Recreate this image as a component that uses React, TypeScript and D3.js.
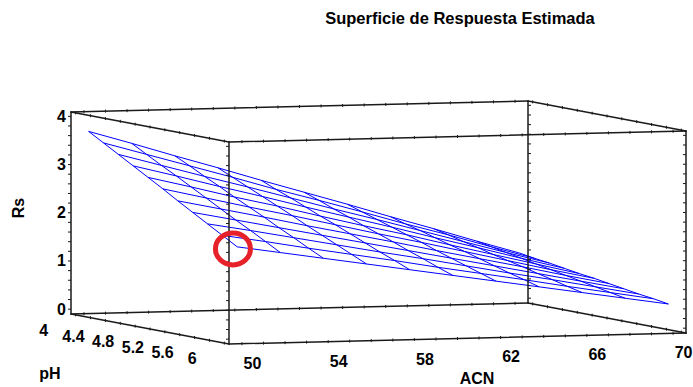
import React from "react";
import * as d3 from "d3";

// ---- data ----
const TITLE = "Superficie de Respuesta Estimada";
const ACN_TICKS = [50, 54, 58, 62, 66, 70];
const PH_TICKS = [4, 4.4, 4.8, 5.2, 5.6, 6];
const RS_TICKS = [0, 1, 2, 3, 4];
const ACN_LEVELS = [50, 52, 54, 56, 58, 60, 62, 64, 66, 68, 70];
const PH_LEVELS = [4, 4.2, 4.4, 4.6, 4.8, 5, 5.2, 5.4, 5.6, 5.8, 6];
// estimated Rs, one row per pH level, one column per ACN level
const RS_PH40 = [3.70, 3.43, 3.15, 2.88, 2.60, 2.33, 2.06, 1.78, 1.51, 1.23, 0.96];
const RS_PH42 = [3.52, 3.26, 3.00, 2.74, 2.47, 2.22, 1.96, 1.69, 1.44, 1.17, 0.91];
const RS_PH44 = [3.34, 3.09, 2.84, 2.60, 2.35, 2.10, 1.86, 1.61, 1.36, 1.11, 0.87];
const RS_PH46 = [3.16, 2.93, 2.69, 2.46, 2.22, 1.99, 1.76, 1.52, 1.29, 1.05, 0.82];
const RS_PH48 = [2.98, 2.76, 2.53, 2.32, 2.09, 1.87, 1.66, 1.43, 1.21, 0.99, 0.77];
const RS_PH50 = [2.80, 2.59, 2.38, 2.18, 1.97, 1.76, 1.56, 1.35, 1.14, 0.93, 0.73];
const RS_PH52 = [2.61, 2.42, 2.23, 2.03, 1.84, 1.65, 1.45, 1.26, 1.07, 0.87, 0.68];
const RS_PH54 = [2.43, 2.25, 2.07, 1.89, 1.71, 1.53, 1.35, 1.17, 0.99, 0.81, 0.63];
const RS_PH56 = [2.25, 2.09, 1.92, 1.75, 1.58, 1.42, 1.25, 1.08, 0.92, 0.75, 0.58];
const RS_PH58 = [2.07, 1.92, 1.76, 1.61, 1.46, 1.30, 1.15, 1.00, 0.84, 0.69, 0.54];
const RS_PH60 = [1.89, 1.75, 1.61, 1.47, 1.33, 1.19, 1.05, 0.91, 0.77, 0.63, 0.49];
const RS_GRID = [RS_PH40, RS_PH42, RS_PH44, RS_PH46, RS_PH48, RS_PH50, RS_PH52, RS_PH54, RS_PH56, RS_PH58, RS_PH60];
const HIGHLIGHT = { acn: 49.8, ph: 6.0, rs: 1.85 };

// ---- layout ----
const W = 693, H = 387;
const ORIGIN = [71, 314];
const AX_ACN = [457, -11];
const AX_PH = [158, 30];
const AX_RS = [0, -202];
const FONT = "'Liberation Sans', Arial, Helvetica, sans-serif";

const uScale = d3.scaleLinear().domain([49.4, 70.6]).range([0, 1]);
const vScale = d3.scaleLinear().domain([3.937, 6.063]).range([0, 1]);
const wScale = d3.scaleLinear().domain([-0.1, 4.09]).range([0, 1]);

function project(a: number, p: number, r: number): [number, number] {
  const u = uScale(a), v = vScale(p), w = wScale(r);
  return [
    ORIGIN[0] + u * AX_ACN[0] + v * AX_PH[0] + w * AX_RS[0],
    ORIGIN[1] + u * AX_ACN[1] + v * AX_PH[1] + w * AX_RS[1],
  ];
}

export default function App() {
  const line = d3.line<[number, number]>();
  const [a0, a1] = uScale.domain();
  const [p0, p1] = vScale.domain();
  const [r0, r1] = wScale.domain();

  // box edges
  const edges: [number, number, number][][] = [];
  for (const p of [p0, p1]) for (const r of [r0, r1]) edges.push([[a0, p, r], [a1, p, r]]);
  for (const a of [a0, a1]) for (const r of [r0, r1]) edges.push([[a, p0, r], [a, p1, r]]);
  for (const a of [a0, a1]) for (const p of [p0, p1]) edges.push([[a, p, r0], [a, p, r1]]);

  // vertical edge ticks
  const rsMinor = d3.range(0, 4.001, 0.2);
  const vertEdges = [
    { a: a0, p: p0, side: -1 },
    { a: a0, p: p1, side: -1 },
    { a: a1, p: p0, side: 1 },
    { a: a1, p: p1, side: -1 },
  ];
  const acnMinor = d3.range(50, 70.001, 1);
  const phMinor = d3.range(4, 6.001, 0.2);

  const meshRows = RS_GRID.map((row, i) =>
    row.map((rs, j) => project(ACN_LEVELS[j], PH_LEVELS[i], rs))
  );
  const meshCols = ACN_LEVELS.map((acn, j) =>
    PH_LEVELS.map((ph, i) => project(acn, ph, RS_GRID[i][j]))
  );

  const hl = project(HIGHLIGHT.acn, HIGHLIGHT.ph, HIGHLIGHT.rs);

  return (
    <svg
      width={W}
      height={H}
      viewBox={`0 0 ${W} ${H}`}
      style={{ position: "absolute", left: 0, top: 0, background: "#fff" }}
      fontFamily={FONT}
      fontWeight="bold"
    >
      <rect x={0} y={0} width={W} height={H} fill="#fff" />
      <text x={460} y={24} textAnchor="middle" fontSize={16.5} fill="#000">
        {TITLE}
      </text>

      {/* mesh */}
      <g fill="none" stroke="#0000ff" strokeWidth={1} strokeLinejoin="round">
        {meshRows.map((pts, i) => (
          <path key={"r" + i} d={line(pts) || ""} />
        ))}
        {meshCols.map((pts, j) => (
          <path key={"c" + j} d={line(pts) || ""} />
        ))}
      </g>

      {/* box */}
      <g stroke="#1a1a1a" strokeWidth={1.5} fill="none" strokeLinecap="round">
        {edges.map((e, i) => {
          const s = project(e[0][0], e[0][1], e[0][2]);
          const t = project(e[1][0], e[1][1], e[1][2]);
          return <line key={i} x1={s[0]} y1={s[1]} x2={t[0]} y2={t[1]} />;
        })}
      </g>

      {/* ticks */}
      <g stroke="#1a1a1a" strokeWidth={1}>
        {vertEdges.map((ve, k) =>
          rsMinor.map((r, i) => {
            const q = project(ve.a, ve.p, r);
            return <line key={k + "-" + i} x1={q[0]} y1={q[1]} x2={q[0] + ve.side * 3} y2={q[1]} />;
          })
        )}
        {[p0, p1].map((p) =>
          [r0, r1].map((r) =>
            acnMinor.map((a, i) => {
              const q = project(a, p, r);
              return <line key={p + "-" + r + "-" + i} x1={q[0]} y1={q[1] - 1.5} x2={q[0]} y2={q[1] + 1.5} />;
            })
          )
        )}
        {[a0, a1].map((a) =>
          [r0, r1].map((r) =>
            phMinor.map((p, i) => {
              const q = project(a, p, r);
              return <line key={a + "-" + r + "-" + i} x1={q[0]} y1={q[1] - 1.5} x2={q[0]} y2={q[1] + 1.5} />;
            })
          )
        )}
      </g>

      {/* tick labels */}
      <g fontSize={16} fill="#000">
        {RS_TICKS.map((r) => {
          const q = project(a0, p0, r);
          return (
            <text key={"rs" + r} x={q[0] - 5} y={q[1]} textAnchor="end" dominantBaseline="central">
              {r}
            </text>
          );
        })}
        {PH_TICKS.map((p) => {
          const q = project(a0, p, r0);
          return (
            <text key={"ph" + p} x={q[0] - 32} y={q[1] + 15.5} textAnchor="middle" dominantBaseline="central">
              {p}
            </text>
          );
        })}
        {ACN_TICKS.map((a) => {
          const q = project(a, p1, r0);
          return (
            <text key={"acn" + a} x={q[0] + 10.5} y={q[1] + 19.5} textAnchor="middle" dominantBaseline="central">
              {a}
            </text>
          );
        })}
      </g>

      {/* axis titles */}
      <g fontSize={16} fill="#000">
        <text transform="translate(18,208) rotate(-90)" textAnchor="middle" dominantBaseline="central">
          Rs
        </text>
        <text x={50} y={373} textAnchor="middle" dominantBaseline="central">
          pH
        </text>
        <text x={477} y={378} textAnchor="middle" dominantBaseline="central">
          ACN
        </text>
      </g>

      {/* highlight ring */}
      <ellipse cx={hl[0]} cy={hl[1]} rx={17.5} ry={16} fill="none" stroke="#e62129" strokeWidth={5} />
    </svg>
  );
}
